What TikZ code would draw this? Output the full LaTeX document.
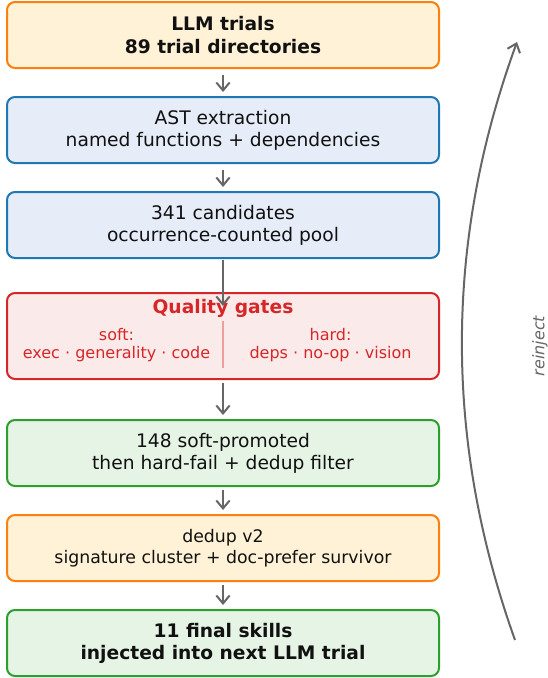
\documentclass[tikz,border=0pt]{standalone}
\usepackage{fontspec}
\setmainfont{DejaVu Sans}
\usetikzlibrary{arrows.meta}

\definecolor{orangeline}{HTML}{FF7F0E}
\definecolor{orangefill}{HTML}{FFF2D6}
\definecolor{blueline}{HTML}{1F77B4}
\definecolor{bluefill}{HTML}{E6EDF8}
\definecolor{redline}{HTML}{D62728}
\definecolor{redfill}{HTML}{FBEAEA}
\definecolor{greenline}{HTML}{2CA02C}
\definecolor{greenfill}{HTML}{E6F4E5}
\definecolor{arrowgray}{HTML}{666666}
\definecolor{inktext}{HTML}{111111}

\tikzset{
  stage/.style={draw, rounded corners=6pt, line width=1.5pt,
    minimum width=324pt, minimum height=49.5pt, inner sep=0pt,
    align=center, text=inktext,
    font=\fontsize{14pt}{16.6pt}\selectfont},
  orangebox/.style={stage, draw=orangeline, fill=orangefill},
  bluebox/.style={stage, draw=blueline, fill=bluefill},
  redbox/.style={stage, draw=redline, fill=redfill, minimum height=64.5pt},
  greenbox/.style={stage, draw=greenline, fill=greenfill},
  flow/.style={draw=arrowgray, line width=1.5pt,
    -{Straight Barb[length=6pt,width=10pt,line width=1.5pt]}},
  gatetext/.style={text=redline, align=center,
    font=\fontsize{12pt}{13pt}\selectfont},
}

\begin{document}
\begin{tikzpicture}[x=0.75pt, y=-0.75pt]
  \useasboundingbox (0,0) rectangle (547,678);

  % pipeline stages
  \node[orangebox] (b1) at (223,35) {\bfseries LLM trials\\\bfseries 89 trial directories};
  \node[bluebox]   (b2) at (223,130) {AST extraction\\named functions + dependencies};
  \node[bluebox]   (b3) at (223,225) {341 candidates\\occurrence-counted pool};
  \node[redbox]    (b4) at (223,336) {};
  \node[greenbox]  (b5) at (223,453) {148 soft-promoted\\then hard-fail + dedup filter};
  \node[orangebox, font=\fontsize{13pt}{15.6pt}\selectfont]
                   (b6) at (223,548) {dedup v2\\signature cluster + doc-prefer survivor};
  \node[greenbox]  (b7) at (223,643) {\bfseries 11 final skills\\\bfseries injected into next LLM trial};

  % contents of the quality gate stage
  \node[text=redline, font=\fontsize{14pt}{16.8pt}\selectfont\bfseries, anchor=base]
    (gtitle) at (223,313) {Quality gates};
  \node[gatetext, anchor=base] (gsoft) at (116.5,358) {soft:\\exec · generality · code};
  \node[gatetext, anchor=base] (ghard) at (330.5,358) {hard:\\deps · no-op · vision};
  \coordinate (divtop) at (223,321);
  \coordinate (divbot) at (223,368);
  \draw[redline!45, line width=0.8pt] (divtop) -- (divbot);

  % connectors between stages
  \draw[flow] ([yshift=-4.5pt]b1.south) -- ([yshift=3pt]b2.north);
  \draw[flow] ([yshift=-4.5pt]b2.south) -- ([yshift=3pt]b3.north);
  \draw[flow] ([yshift=-0.5pt]b3.south) -- ([yshift=-10.5pt]b4.north);
  \draw[flow] ([yshift=-2.5pt]b4.south) -- ([yshift=3pt]b5.north);
  \draw[flow] ([yshift=-2.5pt]b5.south) -- ([yshift=3pt]b6.north);
  \draw[flow] ([yshift=-2.5pt]b6.south) -- ([yshift=3pt]b7.north);

  % feedback loop: a gentle arc bowing towards the stages
  \coordinate (loopstart) at (515,640);
  \coordinate (loopend) at (517,42);
  \draw[flow] (loopstart) .. controls (443.7,440.7) and (444.3,241.3) .. (loopend);
  \node[rotate=90, text=arrowgray, font=\fontsize{12pt}{14pt}\selectfont\itshape]
    (reinject) at (540,346) {reinject};
\end{tikzpicture}
\end{document}
